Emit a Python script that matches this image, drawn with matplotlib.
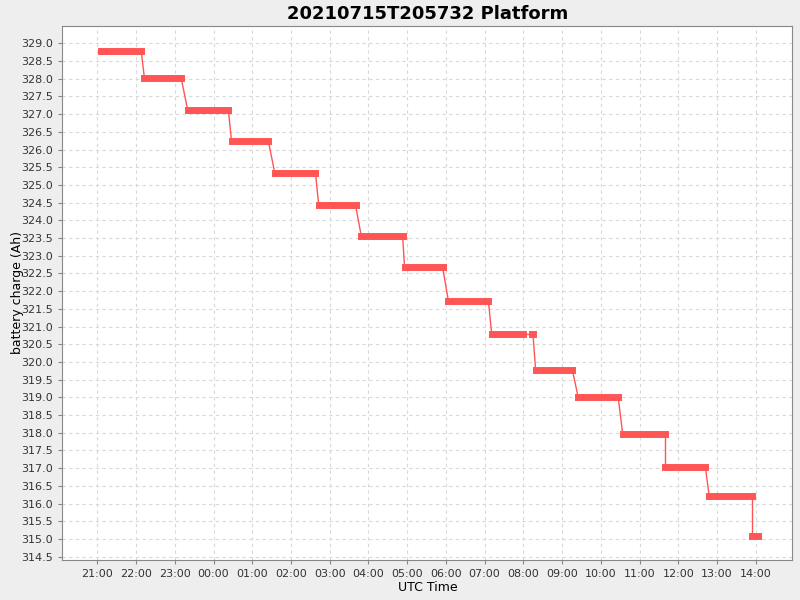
import pandas as pd
import matplotlib
matplotlib.use('Agg')
import matplotlib.pyplot as plt
import matplotlib.dates as mdates

# battery charge plateaus (start, end, Ah)
seg_start = ['2021-07-15 21:05', '2021-07-15 22:13', '2021-07-15 23:20',
             '2021-07-16 00:28', '2021-07-16 01:35', '2021-07-16 02:43',
             '2021-07-16 03:49', '2021-07-16 04:56', '2021-07-16 06:04',
             '2021-07-16 07:11', '2021-07-16 08:14', '2021-07-16 08:19',
             '2021-07-16 09:25', '2021-07-16 10:34', '2021-07-16 11:40',
             '2021-07-16 12:48', '2021-07-16 13:55']
seg_end = ['2021-07-15 22:08', '2021-07-15 23:10', '2021-07-16 00:23',
           '2021-07-16 01:25', '2021-07-16 02:38', '2021-07-16 03:40',
           '2021-07-16 04:53', '2021-07-16 05:55', '2021-07-16 07:06',
           '2021-07-16 07:59', '2021-07-16 08:15', '2021-07-16 09:16',
           '2021-07-16 10:27', '2021-07-16 11:40', '2021-07-16 12:42',
           '2021-07-16 13:55', '2021-07-16 14:04']
seg_value = [328.77, 328.01, 327.11, 326.23, 325.33, 324.43, 323.55, 322.67,
             321.71, 320.78, 320.78, 319.77, 319.00, 317.96, 317.03, 316.21,
             315.08]

starts = pd.to_datetime(seg_start)
ends = pd.to_datetime(seg_end)

red = '#FF5555'

fig = plt.figure(figsize=(8, 6), dpi=100, facecolor='#EEEEEE')
ax = fig.add_axes([0.0779, 0.0667, 0.9125, 0.89])
ax.set_facecolor('white')

# thin connectors between plateaus
for i in range(len(seg_value) - 1):
    ax.plot([ends[i], starts[i + 1]], [seg_value[i], seg_value[i + 1]],
            color=red, lw=1.0, zorder=2)

# thick plateaus
for s, e, v in zip(starts, ends, seg_value):
    ax.plot([s, e], [v, v], color=red, lw=5.0, solid_capstyle='projecting', zorder=3)

ax.set_xlim(pd.Timestamp('2021-07-15 20:05:45'), pd.Timestamp('2021-07-16 14:56:45'))
ax.set_ylim(314.407, 329.489)

ax.yaxis.set_major_locator(plt.MultipleLocator(0.5))
ax.yaxis.set_major_formatter(matplotlib.ticker.FormatStrFormatter('%.1f'))
ax.xaxis.set_major_locator(mdates.HourLocator())
ax.xaxis.set_major_formatter(mdates.DateFormatter('%H:%M'))

ax.grid(True, color='#D8D8D8', linestyle=(0, (3, 3)), linewidth=0.8)
ax.set_axisbelow(True)
for sp in ax.spines.values():
    sp.set_color('#888888')
ax.tick_params(axis='both', labelsize=8, colors='#888888', labelcolor='#333333',
               length=3, width=0.8)

ax.set_title('20210715T205732 Platform', fontsize=13, fontweight='bold', pad=5)
ax.set_xlabel('UTC Time', fontsize=9)
ax.set_ylabel('battery charge (Ah)', fontsize=9)
ax.xaxis.set_label_coords(0.5, -0.039)
ax.yaxis.set_label_coords(-0.052, 0.5)

fig.savefig('out.png', dpi=100, facecolor=fig.get_facecolor())
